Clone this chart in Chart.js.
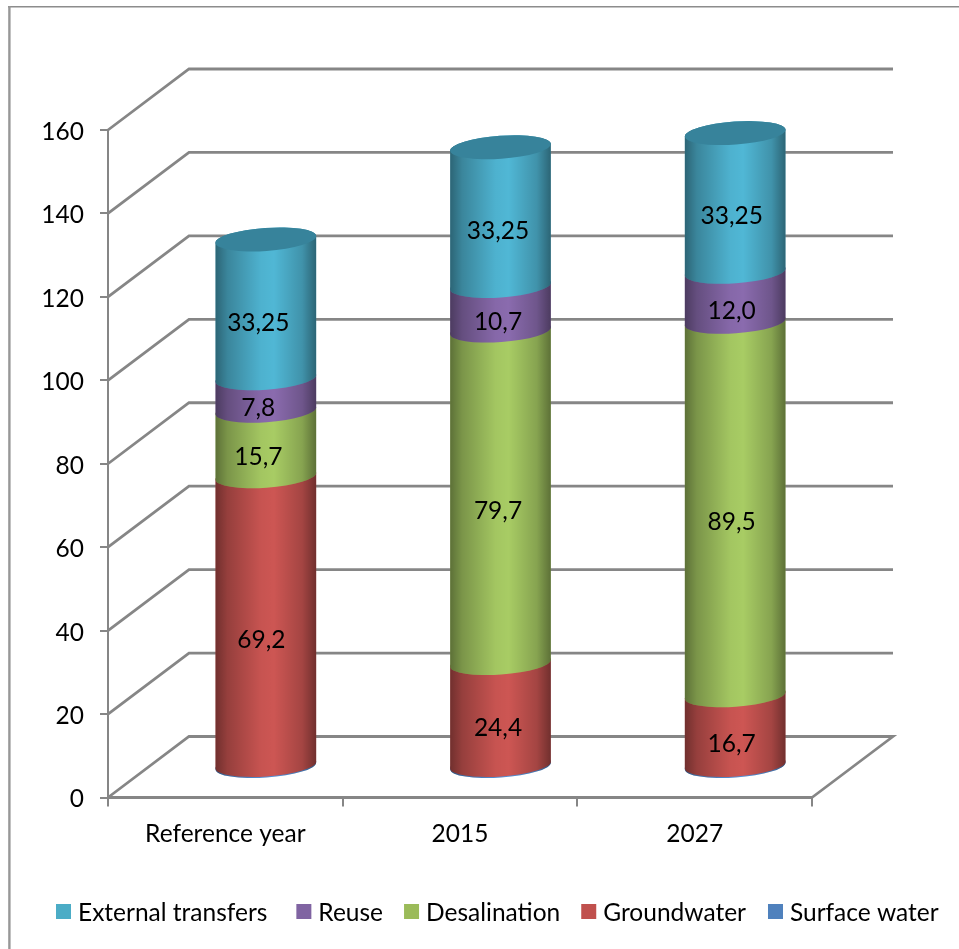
<!DOCTYPE html>
<html>
<head>
<meta charset="utf-8">
<title>Water supply by source</title>
<script src="https://cdn.jsdelivr.net/npm/chart.js@4/dist/chart.umd.min.js"></script>
<style>
    html, body { margin: 0; padding: 0; background: #fff; }
    #wrap { position: relative; width: 959px; height: 949px; overflow: hidden; }
</style>
</head>
<body>
<div id="wrap"><canvas id="chart" width="959" height="949"></canvas></div>
<script>
const categories = ["Reference year", "2015", "2027"];
const yTicks = [0, 20, 40, 60, 80, 100, 120, 140, 160];

const surfaceWater = [0.5, 0.5, 0.5];
const groundwater = [69.2, 24.4, 16.7];
const desalination = [15.7, 79.7, 89.5];
const reuse = [7.8, 10.7, 12.0];
const externalTransfers = [33.25, 33.25, 33.25];

const FONT = "Lato, 'Open Sans', sans-serif";
const FONT_SIZE = 24.5;
const GRID = "#868686";
const DEPTH_X = 81, DEPTH_Y = 61;   // back wall offset from the front axes
const RY = 11.5, TILT = -4 * Math.PI / 180;
const LABEL_DX = [33, 38, 37];      // data labels sit a bit left of the cylinder axis
const LEGEND_GAPS = [29, 21, 21, 22];

function fmt(v){
    return v.toLocaleString("de-DE", { minimumFractionDigits: 1 });
}

function series(label, data, legend, mid){
    return { label, data, backgroundColor: legend, mid, showLabel: label !== "Surface water" };
}

const datasets = [
    series("Surface water", surfaceWater, "#4f81bd", "#5590d6"),
    series("Groundwater", groundwater, "#c0504d", "#cd5653"),
    series("Desalination", desalination, "#9bbb59", "#a8cc64"),
    series("Reuse", reuse, "#8064a2", "#8a6bae"),
    series("External transfers", externalTransfers, "#4bacc6", "#50b7d5")
];

// outer frame, walls and floor behind the bars
const wallsPlugin = {
    id: "walls",
    beforeDraw(chart){
        const ctx = chart.ctx;
        ctx.save();
        ctx.strokeStyle = "#8c8c8c";
        ctx.lineWidth = 1.6;
        ctx.beginPath();
        ctx.moveTo(8, 6.8);
        ctx.lineTo(959, 6.8);
        ctx.stroke();
        ctx.strokeStyle = "#979797";
        ctx.lineWidth = 2.4;
        ctx.beginPath();
        ctx.moveTo(9.4, 6);
        ctx.lineTo(9.4, 949);
        ctx.stroke();
        ctx.restore();
    },
    beforeDatasetsDraw(chart){
        const { ctx, scales: { x, y } } = chart;
        ctx.save();
        ctx.strokeStyle = GRID;
        ctx.lineWidth = 2.8;
        yTicks.forEach(t => {
            const py = y.getPixelForValue(t);
            ctx.beginPath();
            ctx.moveTo(x.left, py);
            ctx.lineTo(x.left + DEPTH_X, py - DEPTH_Y);
            ctx.lineTo(x.right + DEPTH_X, py - DEPTH_Y);
            if (t === 0) ctx.lineTo(x.right, py);
            ctx.stroke();
        });
        ctx.restore();
    }
};

function segmentPath(ctx, cx, top, base, rx){
    ctx.beginPath();
    ctx.ellipse(cx, top, rx, RY, TILT, Math.PI, 0, false);
    ctx.ellipse(cx, base, rx, RY, TILT, 0, Math.PI, false);
    ctx.closePath();
}

// cylinders are drawn from the bar elements, pushed to the middle of the depth
const cylinderPlugin = {
    id: "cylinders",
    beforeDatasetDraw(){
        return false;
    },
    afterDatasetsDraw(chart){
        const ctx = chart.ctx;
        const dx = DEPTH_X / 2, dy = DEPTH_Y / 2;
        categories.forEach((_, i) => {
            let topEl = null;
            datasets.forEach((ds, d) => {
                const el = chart.getDatasetMeta(d).data[i];
                const cx = el.x + dx, rx = el.width / 2;
                segmentPath(ctx, cx, el.y - dy, el.base - dy, rx);
                ctx.fillStyle = ds.mid;
                ctx.fill();
                const shade = ctx.createLinearGradient(cx - rx, 0, cx + rx, 0);
                shade.addColorStop(0, "rgba(0,0,0,0.45)");
                shade.addColorStop(0.12, "rgba(0,0,0,0.27)");
                shade.addColorStop(0.45, "rgba(0,0,0,0.03)");
                shade.addColorStop(0.58, "rgba(0,0,0,0)");
                shade.addColorStop(0.86, "rgba(0,0,0,0.2)");
                shade.addColorStop(1, "rgba(0,0,0,0.45)");
                ctx.fillStyle = shade;
                ctx.fill();
                topEl = el;
            });
            ctx.beginPath();
            ctx.ellipse(topEl.x + dx, topEl.y - dy, topEl.width / 2, RY, TILT, 0, Math.PI * 2);
            ctx.fillStyle = "#37839b";
            ctx.fill();
        });

        ctx.save();
        ctx.font = FONT_SIZE + "px " + FONT;
        ctx.fillStyle = "#000";
        ctx.textAlign = "center";
        ctx.textBaseline = "middle";
        datasets.forEach((ds, d) => {
            if (!ds.showLabel) return;
            chart.getDatasetMeta(d).data.forEach((el, i) => {
                // the 69,2 label is placed lower and further right in the original
                const big = ds.data[i] === 69.2;
                const lx = el.x + LABEL_DX[i] + (big ? 3 : 0);
                const ly = (el.y + el.base) / 2 - dy + (big ? 20 : 14);
                ctx.fillText(fmt(ds.data[i]), lx, ly);
            });
        });
        ctx.restore();
    }
};

// legend row under the axis, last series first
const legendPlugin = {
    id: "legendRow",
    afterDraw(chart){
        const ctx = chart.ctx;
        let px = 56;
        const py = 911.5;
        ctx.save();
        ctx.font = FONT_SIZE + "px " + FONT;
        ctx.textBaseline = "middle";
        datasets.slice().reverse().forEach((ds, i) => {
            ctx.fillStyle = ds.backgroundColor;
            ctx.fillRect(px, py - 7.5, 15, 15);
            ctx.fillStyle = "#000";
            ctx.fillText(ds.label, px + 22, py + 1.5);
            px += 22 + ctx.measureText(ds.label).width + (LEGEND_GAPS[i] || 0);
        });
        ctx.restore();
    }
};

// Lato sits a little high in its line box, nudge the y labels down
function lowerLabels(scale, by){
    const draw = scale.drawLabels;
    scale.drawLabels = function(area){
        const ctx = this.ctx;
        ctx.save();
        ctx.translate(0, by);
        draw.call(this, area);
        ctx.restore();
    };
}

const chart = new Chart(document.getElementById("chart"), {
    type: "bar",
    data: { labels: categories, datasets },
    options: {
        responsive: false,
        animation: false,
        categoryPercentage: 1,
        barPercentage: 0.43,
        layout: { padding: { top: 130, right: 147, left: 0, bottom: 0 } },
        plugins: { legend: { display: false }, tooltip: { enabled: false } },
        scales: {
            x: {
                stacked: true,
                afterFit(s){ s.height = 151.5; },
                grid: { drawOnChartArea: false, color: GRID, lineWidth: 2, tickLength: 9 },
                border: { color: GRID, width: 3 },
                ticks: { color: "#000", padding: 13, maxRotation: 0, font: { family: FONT, size: FONT_SIZE } }
            },
            y: {
                stacked: true,
                min: 0,
                max: 160,
                afterFit(s){ s.width = 108; },
                afterBuildTicks(s){ s.ticks = yTicks.map(value => ({ value })); },
                grid: { drawOnChartArea: false, color: GRID, lineWidth: 2, tickLength: 8 },
                border: { color: GRID, width: 2 },
                ticks: { color: "#000", padding: 16, font: { family: FONT, size: FONT_SIZE } }
            }
        }
    },
    plugins: [wallsPlugin, cylinderPlugin, legendPlugin]
});
lowerLabels(chart.scales.y, 2);
chart.draw();
</script>
</body>
</html>
